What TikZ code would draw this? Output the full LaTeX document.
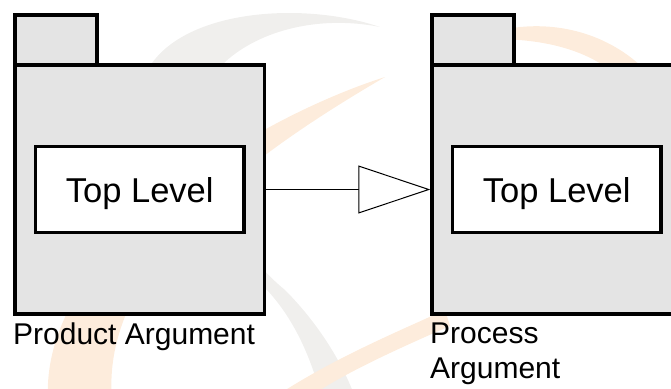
\documentclass[tikz,border=0pt]{standalone}
\usepackage{fontspec}
\setmainfont{Liberation Sans}
\usetikzlibrary{positioning,arrows.meta}

\definecolor{pkgfill}{RGB}{228,228,228}
\definecolor{swoopgray}{RGB}{240,239,237}
\definecolor{swooporange}{RGB}{253,236,220}

\begin{document}
\begin{tikzpicture}[
        x=1pt, y=-1pt,
        pkg/.style={
            draw, line width=3.5pt, fill=pkgfill, outer sep=0pt,
            minimum width=249.5pt, minimum height=249pt
        },
        tab/.style={draw, line width=3.5pt, fill=pkgfill, outer sep=0pt,
                    minimum width=82pt, minimum height=50pt, anchor=south west},
        part/.style={draw, line width=3.5pt, fill=white, text depth=0pt,
                     minimum width=208.5pt, minimum height=86pt,
                     font=\fontsize{34.5}{40}\selectfont},
        lab/.style={inner sep=0pt, align=left, font=\fontsize{30}{35}\selectfont},
        ar/.style={line width=1pt, shorten >=1.75pt,
                   -{Triangle[length=72pt, width=48pt, fill=white]}}
    ]
    \useasboundingbox (0,0) rectangle (671,388);

    %% ---- faint swooshes in the back ----
    \fill[swoopgray] (380,27) .. controls (300,0) and (175,10) .. (145,75)
        .. controls (130,180) and (200,240) .. (267,290)
        .. controls (295,320) and (312,360) .. (322,400)
        -- (356,400) .. controls (342,360) and (315,320) .. (285,290)
        .. controls (200,220) and (190,110) .. (225,62)
        .. controls (260,30) and (320,15) .. (380,27) -- cycle;
    \fill[swooporange] (385,77) .. controls (250,120) and (40,250) .. (48,400)
        -- (112,400) .. controls (100,260) and (260,150) .. (385,77) -- cycle;
    \fill[swooporange] (270,400) .. controls (330,360) and (390,335) .. (445,310)
        -- (450,326) .. controls (395,350) and (340,375) .. (305,400) -- cycle;
    \fill[swooporange] (470,40) .. controls (540,10) and (620,30) .. (662,90)
        -- (630,90) .. controls (600,50) and (540,35) .. (470,40) -- cycle;

    %% ---- left package ----
    \node[pkg] (prodbody) at (139.75,189.5) {};
    \node[tab] (prodtab) at (prodbody.north west) {};
    \node[part] (prodtop) at (prodbody) {Top Level};
    \node[lab, below right=9pt and -2pt of prodbody.south west] (prodlab)
        {Product Argument};

    %% ---- right package ----
    \node[pkg, right=167.5pt of prodbody] (procbody) {};
    \node[tab] (proctab) at (procbody.north west) {};
    \node[part] (proctop) at (procbody) {Top Level};
    \node[lab, below right=9pt and -2pt of procbody.south west] (proclab)
        {Process\\ Argument};

    \draw[ar] (prodbody) -- (procbody);
\end{tikzpicture}
\end{document}
